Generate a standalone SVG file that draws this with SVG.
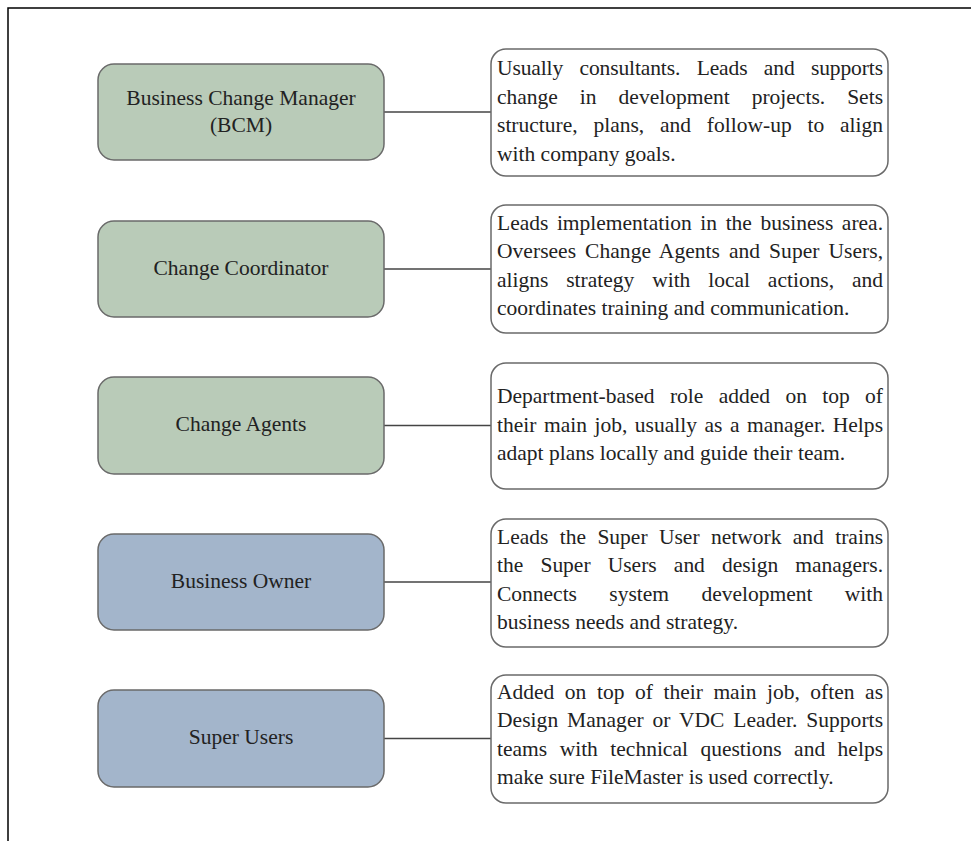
<svg xmlns="http://www.w3.org/2000/svg" width="971" height="841" viewBox="0 0 971 841">
<style>
.role{stroke:#6a6a6a;stroke-width:1.5}
.green{fill:#b9cbb8}
.blue{fill:#a3b5cb}
.desc{fill:#ffffff;stroke:#6a6a6a;stroke-width:1.5}
.lbl{font-family:"Liberation Serif","Times New Roman",serif;font-size:21.5px;fill:#222;text-anchor:middle}
.txt{font-family:"Liberation Serif","Times New Roman",serif;font-size:21.5px;fill:#222}
.conn{stroke:#444;stroke-width:1.6;fill:none}
.frame{stroke:#000;stroke-width:1.5;fill:none}
</style>
<rect width="971" height="841" fill="#fff"/>
<path class="frame" d="M8,841 V8 H971"/>
<g id="connectors">
<line class="conn" x1="384" y1="112" x2="491" y2="112"/>
<line class="conn" x1="384" y1="269" x2="491" y2="269"/>
<line class="conn" x1="384" y1="425.5" x2="491" y2="425.5"/>
<line class="conn" x1="384" y1="582" x2="491" y2="582"/>
<line class="conn" x1="384" y1="738.5" x2="491" y2="738.5"/>
</g>
<g id="bcm">
<rect class="role green" x="98" y="64" width="286" height="96" rx="16"/>
<text class="lbl" x="241" y="104.5">Business Change Manager</text>
<text class="lbl" x="241" y="132">(BCM)</text>
</g>
<g id="bcm-desc">
<rect class="desc" x="491" y="49" width="397" height="127" rx="15"/>
<text class="txt" x="497" y="75" word-spacing="11.2" textLength="386" lengthAdjust="spacing">Usually consultants. Leads and supports</text>
<text class="txt" x="497" y="103.5" word-spacing="16.6" textLength="386" lengthAdjust="spacing">change in development projects. Sets</text>
<text class="txt" x="497" y="132" word-spacing="10.4" textLength="386" lengthAdjust="spacing">structure, plans, and follow-up to align</text>
<text class="txt" x="497" y="160.5">with company goals.</text>
</g>
<g id="change-coordinator">
<rect class="role green" x="98" y="221" width="286" height="96" rx="16"/>
<text class="lbl" x="241" y="274.5">Change Coordinator</text>
</g>
<g id="cc-desc">
<rect class="desc" x="491" y="205" width="397" height="128" rx="15"/>
<text class="txt" x="497" y="229.5" word-spacing="3.2" textLength="386" lengthAdjust="spacing">Leads implementation in the business area.</text>
<text class="txt" x="497" y="258" word-spacing="3.6" textLength="386" lengthAdjust="spacing">Oversees Change Agents and Super Users,</text>
<text class="txt" x="497" y="286.5" word-spacing="12.5" textLength="386" lengthAdjust="spacing">aligns strategy with local actions, and</text>
<text class="txt" x="497" y="315">coordinates training and communication.</text>
</g>
<g id="change-agents">
<rect class="role green" x="98" y="377" width="286" height="97" rx="16"/>
<text class="lbl" x="241" y="431">Change Agents</text>
</g>
<g id="ca-desc">
<rect class="desc" x="491" y="363" width="397" height="126" rx="15"/>
<text class="txt" x="497" y="403" word-spacing="10" textLength="386" lengthAdjust="spacing">Department-based role added on top of</text>
<text class="txt" x="497" y="431.5" word-spacing="2" textLength="386" lengthAdjust="spacing">their main job, usually as a manager. Helps</text>
<text class="txt" x="497" y="460">adapt plans locally and guide their team.</text>
</g>
<g id="business-owner">
<rect class="role blue" x="98" y="534" width="286" height="96" rx="16"/>
<text class="lbl" x="241" y="587.5">Business Owner</text>
</g>
<g id="bo-desc">
<rect class="desc" x="491" y="519" width="397" height="128" rx="15"/>
<text class="txt" x="497" y="543.5" word-spacing="6" textLength="386" lengthAdjust="spacing">Leads the Super User network and trains</text>
<text class="txt" x="497" y="572" word-spacing="11.8" textLength="386" lengthAdjust="spacing">the Super Users and design managers.</text>
<text class="txt" x="497" y="600.5" word-spacing="27" textLength="386" lengthAdjust="spacing">Connects system development with</text>
<text class="txt" x="497" y="629">business needs and strategy.</text>
</g>
<g id="super-users">
<rect class="role blue" x="98" y="690" width="286" height="97" rx="16"/>
<text class="lbl" x="241" y="744">Super Users</text>
</g>
<g id="su-desc">
<rect class="desc" x="491" y="675" width="397" height="128" rx="15"/>
<text class="txt" x="497" y="698.5" word-spacing="5.2" textLength="386" lengthAdjust="spacing">Added on top of their main job, often as</text>
<text class="txt" x="497" y="727" word-spacing="3.4" textLength="386" lengthAdjust="spacing">Design Manager or VDC Leader. Supports</text>
<text class="txt" x="497" y="755.5" word-spacing="7.1" textLength="386" lengthAdjust="spacing">teams with technical questions and helps</text>
<text class="txt" x="497" y="784">make sure FileMaster is used correctly.</text>
</g>
</svg>
